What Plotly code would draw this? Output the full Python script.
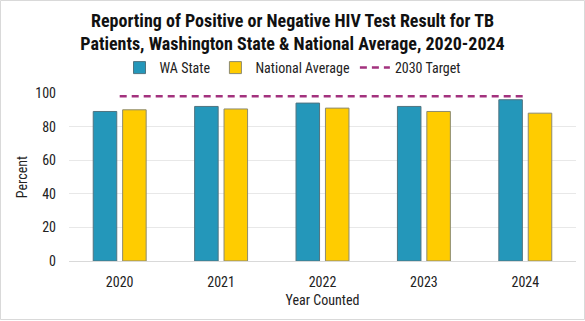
import plotly.graph_objects as go

years = ["2020", "2021", "2022", "2023", "2024"]
wa_state = [89, 92, 94, 92, 96]
national_avg = [90, 90.5, 91, 89, 88]
target_2030 = [98, 98, 98, 98, 98]
y_ticks = [0, 20, 40, 60, 80, 100]

W, H = 585, 321
ML, MR, MT, MB = 69, 9, 93, 60
pw, ph = W - ML - MR, H - MT - MB

font_main = "Liberation Sans Narrow, Roboto Condensed, Arial Narrow, Liberation Sans, Arial, sans-serif"

fig = go.Figure()
fig.add_trace(go.Bar(
    x=years, y=wa_state, name="WA State",
    marker=dict(color="#2497BA", line=dict(color="#4f7480", width=1)),
))
fig.add_trace(go.Bar(
    x=years, y=national_avg, name="National Average",
    marker=dict(color="#FFCC00", line=dict(color="#8c8a70", width=1)),
))
fig.add_trace(go.Scatter(
    x=years, y=target_2030, name="2030 Target", mode="lines",
    line=dict(color="#A3327E", width=2.5, dash="7px,5px"),
))

fig.update_layout(
    width=W, height=H,
    margin=dict(l=ML, r=MR, t=MT, b=MB, autoexpand=False),
    paper_bgcolor="white", plot_bgcolor="white",
    font=dict(family=font_main, color="#222222", size=13),
    title=dict(
        text="<b>Reporting of Positive or Negative HIV Test Result for TB<br>Patients, Washington State &amp; National Average, 2020-2024</b>",
        x=0.5, xanchor="center", xref="container",
        y=1 - 27 / H, yanchor="middle",
        font=dict(size=18, family=font_main, color="#111111"),
    ),
    barmode="group", bargap=0.42, bargroupgap=0.2,
    legend=dict(
        orientation="h", x=(W / 2 - ML) / pw, xanchor="center", xref="paper",
        y=1 + (MT - 68) / ph, yanchor="middle",
        font=dict(size=14), itemwidth=30, tracegroupgap=0,
        bgcolor="rgba(0,0,0,0)",
    ),
    xaxis=dict(
        title=dict(text="Year Counted", font=dict(size=14), standoff=6),
        showline=True, linecolor="#d9d9d9", linewidth=1,
        tickfont=dict(size=14), ticks="", showgrid=False,
        ticklabelstandoff=8, tickangle=0,
    ),
    yaxis=dict(
        title=dict(text="Percent", font=dict(size=14), standoff=4),
        range=[0, 100], tickvals=y_ticks, tickfont=dict(size=14),
        showgrid=True, gridcolor="#e8e8e8", gridwidth=1,
        zeroline=False, ticks="", ticklabelstandoff=12,
    ),
)

fig.add_shape(
    type="rect", xref="paper", yref="paper",
    x0=(0.5 - ML) / pw, x1=(W - 0.5 - ML) / pw,
    y0=-(MB - 1.5) / ph, y1=1 + (MT - 0.5) / ph,
    line=dict(color="#d9d9d9", width=1), fillcolor="rgba(0,0,0,0)", layer="below",
)

fig.write_html("out.html")
